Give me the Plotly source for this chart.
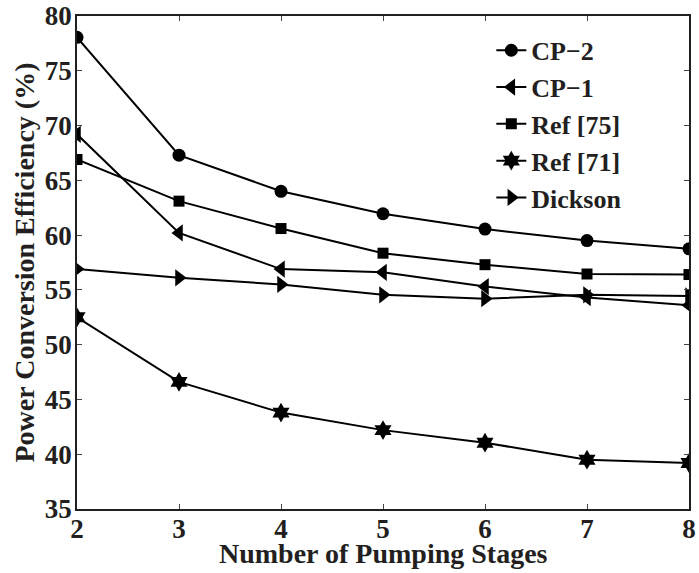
import plotly.graph_objects as go

stages = [2, 3, 4, 5, 6, 7, 8]
cp2 = [78.05, 67.3, 64.0, 61.95, 60.55, 59.5, 58.75]
cp1 = [69.2, 60.2, 56.9, 56.6, 55.3, 54.3, 53.6]
ref75 = [66.9, 63.1, 60.6, 58.35, 57.3, 56.45, 56.4]
ref71 = [52.5, 46.6, 43.8, 42.2, 41.05, 39.5, 39.2]
dickson = [56.9, 56.1, 55.5, 54.55, 54.2, 54.55, 54.45]
y_ticks = [35, 40, 45, 50, 55, 60, 65, 70, 75, 80]

names = ["CP\u22122", "CP\u22121", "Ref [75]", "Ref [71]", "Dickson"]
series = [cp2, cp1, ref75, ref71, dickson]
symbols = ["circle", "triangle-left", "square", "hexagram", "triangle-right"]
sizes = [13, 15, 11, 15, 15]

x_title = "Number of Pumping Stages"
y_title = "Power Conversion Efficiency (%)"

font_family = "Liberation Serif"
ink = "#231f20"

fig = go.Figure()
for name, ys, sym, sz in zip(names, series, symbols, sizes):
    fig.add_trace(go.Scatter(
        x=stages, y=ys, name=name, mode="lines+markers",
        line=dict(color="black", width=2),
        marker=dict(symbol=sym, size=sz, color="black"),
    ))

fig.update_layout(
    width=699, height=573,
    margin=dict(l=77, r=10, t=16, b=64),
    paper_bgcolor="white", plot_bgcolor="white",
    font=dict(family=font_family, color=ink, size=27, weight="bold"),
    showlegend=True,
    legend=dict(
        x=0.677, y=0.978, xanchor="left", yanchor="top",
        bgcolor="rgba(0,0,0,0)", borderwidth=0,
        font=dict(family=font_family, size=26, color=ink, weight="bold"),
        tracegroupgap=0, itemwidth=30,
    ),
    annotations=[
        dict(text=f"<b>{x_title}</b>", xref="paper", yref="paper",
             x=0.5, y=-0.091, xanchor="center", yanchor="middle",
             showarrow=False, font=dict(family=font_family, size=28, color=ink)),
        dict(text=f"<b>{y_title}</b>", xref="paper", yref="paper",
             x=-0.085, y=0.5, xanchor="center", yanchor="middle", textangle=-90,
             showarrow=False, font=dict(family=font_family, size=28, color=ink)),
    ],
)
fig.update_xaxes(
    range=[2, 8], tickvals=stages, ticks="inside", ticklen=5,
    showline=True, linecolor=ink, linewidth=1.5, mirror="ticks",
    showgrid=False, zeroline=False, automargin=False, ticklabelstandoff=-5,
    tickfont=dict(family=font_family, size=27, weight="bold"),
)
fig.update_yaxes(
    range=[35, 80], tickvals=y_ticks,
    ticks="inside", ticklen=5,
    showline=True, linecolor=ink, linewidth=1.5, mirror="ticks",
    showgrid=False, zeroline=False, automargin=False, ticklabelstandoff=-2,
    tickfont=dict(family=font_family, size=27, weight="bold"),
)

fig.write_html("out.html", config={"displayModeBar": False},
               post_script="document.body.style.margin='0';")
